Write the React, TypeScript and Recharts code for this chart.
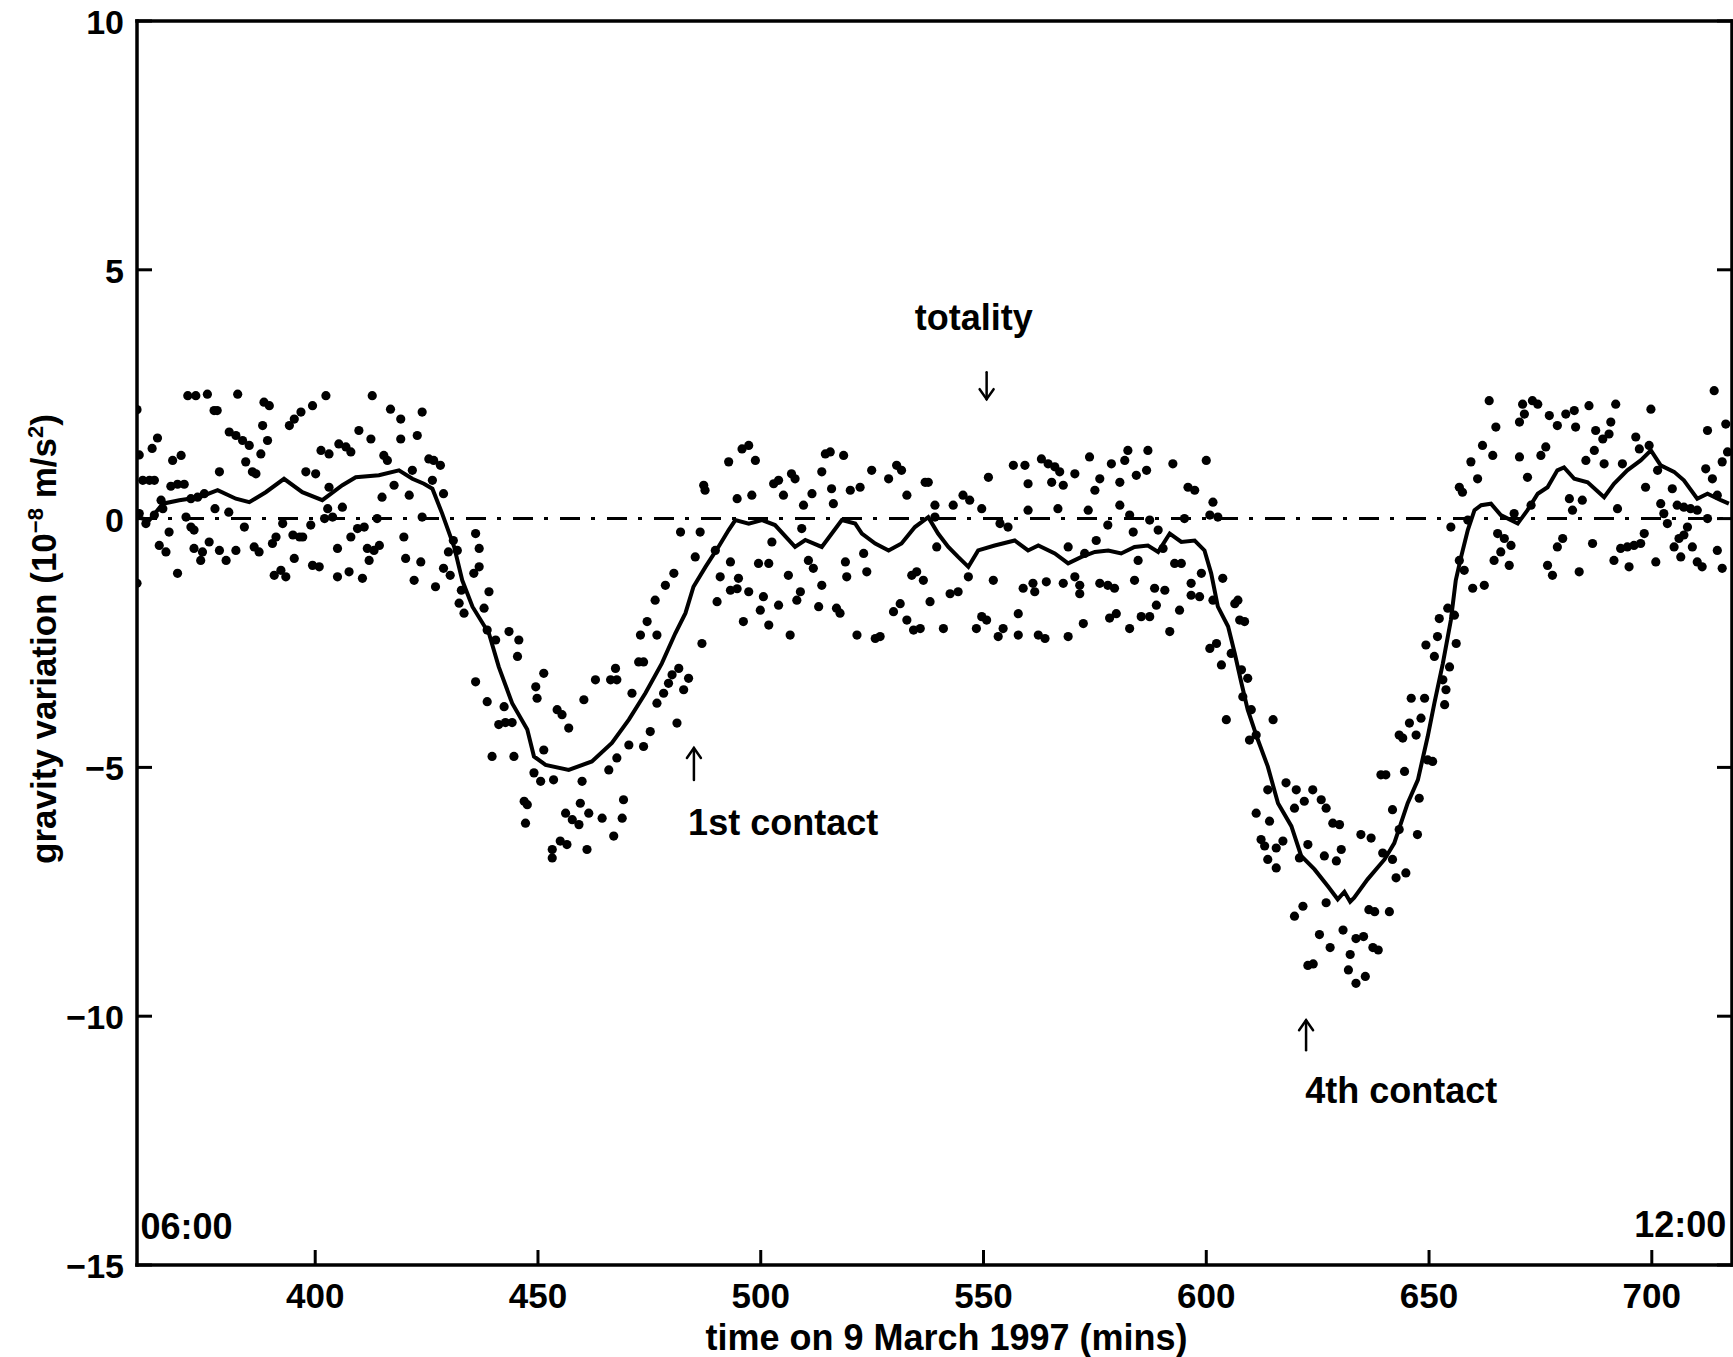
import React from 'react';
import {
  ComposedChart, Scatter, Line, XAxis, YAxis, ReferenceLine, ReferenceDot,
} from 'recharts';

const FONT = '"Liberation Sans", Arial, Helvetica, sans-serif';

const xTicks = [400, 450, 500, 550, 600, 650, 700];
const yTicks = [10, 5, 0, -5, -10, -15];

// raw gravimeter readings [minute, value]
const dotsBefore: [number, number][] = [
  [360.0, 2.19], [360.5, 1.28], [363.4, 1.41], [364.6, 1.62], [361.3, 0.77], [362.8, 0.77], [363.9, 0.77],
  [360.5, 0.1], [362.0, -0.1], [363.9, 0.07], [365.4, 0.37], [365.8, 0.2], [367.2, -0.27], [360.0, -1.3],
  [368.0, 1.17], [369.9, 1.27], [367.6, 0.65], [369.1, 0.69], [370.6, 0.69], [371.0, 0.03],
  [365.0, -0.54], [366.5, -0.67], [369.1, -1.1], [371.4, 2.47], [373.2, 2.47], [375.8, 2.5],
  [377.3, 2.17], [378.0, 2.17], [372.1, -0.17], [372.8, -0.23], [372.8, -0.6], [374.7, -0.67],
  [374.3, -0.84], [376.2, -0.47], [372.1, 0.4], [373.6, 0.43], [375.1, 0.5], [378.5, 0.94],
  [377.5, 0.2], [380.6, 0.13], [378.5, -0.64], [380.0, -0.84], [380.7, 1.74], [382.2, 1.67],
  [383.7, 1.57], [385.2, 1.47], [382.6, 2.5], [382.2, -0.64], [384.1, -0.17], [384.4, 1.14],
  [385.9, 0.94], [386.7, 0.9], [386.3, -0.57], [387.4, -0.67], [387.8, 1.3], [388.2, 1.87],
  [388.5, 2.34], [389.7, 2.27], [389.3, 1.57], [390.4, -0.5], [391.2, -0.37], [390.8, -1.14],
  [392.3, -1.04], [393.4, -1.17], [392.7, -0.1], [395.0, -0.33], [396.5, -0.37], [397.2, -0.37],
  [395.3, -0.8], [394.2, 1.87], [395.3, 2.0], [396.8, 2.14], [399.4, 2.27], [397.9, 0.94],
  [400.1, 0.9], [399.0, -0.13], [399.4, -0.94], [400.9, -0.97], [401.3, 1.37], [403.1, 1.3],
  [402.4, 2.47], [403.1, 0.63], [402.8, 0.2], [402.1, 0.0], [403.9, 0.03], [405.0, -1.17],
  [407.6, -1.07], [405.0, -0.6], [405.3, 1.5], [406.9, 1.44], [408.0, 1.34], [406.1, 0.23],
  [408.0, -0.37], [409.5, -0.2], [411.0, -0.17], [409.8, 1.77], [410.6, -1.2], [411.7, -0.6],
  [413.2, -0.64], [414.4, -0.54], [412.1, -0.84], [412.5, 1.6], [412.8, 2.47], [413.9, 0.0],
  [415.0, 0.43], [415.4, 1.27], [416.2, 1.17], [416.9, 2.2], [417.7, 0.67], [419.2, 2.0],
  [419.2, 1.6], [419.9, -0.37], [420.3, -0.8], [421.1, 0.47], [421.8, 0.97], [422.2, -1.24],
  [422.9, 1.67], [423.7, -0.87], [424.0, 2.14], [424.0, 0.03], [425.5, 1.2], [426.6, 1.17],
  [428.1, 1.07], [426.3, 0.77], [427.0, -1.37], [428.8, 0.5], [428.8, -1.0], [430.3, -1.14],
  [429.9, -0.67], [431.0, -0.44], [431.9, -0.64], [432.3, -1.7], [433.4, -1.9], [432.8, -1.44],
  [435.6, -1.1], [436.8, -0.97], [436.0, -0.3], [436.8, -0.6], [437.9, -1.8], [439.0, -1.47],
  [438.6, -2.24], [440.5, -2.44], [443.5, -2.27], [445.7, -2.44], [445.4, -2.77], [436.0, -3.28],
  [438.6, -3.68], [442.4, -3.78], [441.2, -4.14], [442.7, -4.1], [444.2, -4.1], [439.7, -4.78],
  [444.6, -4.78], [449.1, -5.11], [449.5, -3.38], [449.8, -3.61], [446.9, -5.68], [447.6, -5.75],
  [447.2, -6.12], [450.6, -5.28],
];

const dotsFirstContact: [number, number][] = [
  [451.3, -3.11], [454.3, -3.84], [455.4, -3.94], [456.9, -4.21], [460.3, -3.64], [462.9, -3.24],
  [466.3, -3.24], [467.7, -3.24], [467.4, -3.01], [471.1, -3.51], [472.6, -2.88], [473.7, -2.88],
  [473.0, -2.34], [474.5, -2.07], [476.3, -1.64], [476.7, -2.34], [478.6, -1.34], [480.5, -1.1],
  [480.1, -3.14], [481.6, -3.01], [479.3, -3.31], [478.2, -3.51], [476.7, -3.71], [482.7, -3.44],
  [483.8, -3.21], [481.2, -4.11], [475.2, -4.28], [473.7, -4.58], [470.4, -4.55], [467.7, -4.81],
  [465.9, -5.05], [451.3, -4.65], [453.5, -5.25], [459.9, -5.28], [459.5, -5.72], [456.2, -5.92],
  [457.7, -6.05], [459.2, -6.15], [461.4, -5.92], [464.4, -6.02], [469.2, -5.65], [468.9, -6.02],
  [467.0, -6.38], [455.0, -6.48], [456.5, -6.55], [453.2, -6.65], [453.2, -6.82], [461.0, -6.65],
  [482.0, -0.27], [485.3, -0.77], [486.4, -0.27], [487.2, 0.67], [487.5, 0.57], [486.8, -2.51],
  [489.8, -0.64], [490.2, -1.67], [490.9, -1.17], [492.8, 1.14], [493.2, -0.87], [493.2, -1.44],
  [494.7, -1.41], [495.0, -1.2], [494.7, 0.4], [495.8, 1.4], [497.3, 1.47], [496.1, -2.07],
  [497.3, -1.47], [498.0, 0.47], [498.8, 1.17], [499.5, -0.9], [499.9, -1.84], [500.6, -1.57],
  [501.8, -2.14], [501.8, -0.9], [502.5, -0.47], [502.9, 0.7], [504.0, 0.77], [504.0, -1.74],
  [505.1, 0.47], [506.2, -1.14], [506.6, -2.34], [506.9, 0.9], [507.7, 0.8], [508.1, -1.64],
  [508.9, -1.47], [509.2, -0.2], [509.6, 0.27], [510.7, -0.84], [511.8, -1.0], [511.5, 0.5],
  [513.0, -1.77], [513.7, -1.34], [513.7, 0.94], [514.5, 1.3], [515.6, 1.34], [515.9, 0.6],
  [516.3, 0.3], [517.0, -1.8], [517.8, -1.9], [518.6, 1.27], [519.0, -0.87], [519.3, -1.17],
  [520.1, 0.57], [521.6, -2.34], [522.3, 0.63], [523.1, -0.7], [523.8, -1.07], [524.9, 0.97],
  [525.7, -2.41], [526.8, -2.37], [528.7, 0.8], [529.8, -1.87], [531.3, -1.71], [530.5, 1.07],
  [531.6, 0.97], [532.8, 0.47], [532.8, -2.04], [533.9, -1.14], [535.0, -1.07], [534.3, -2.24],
  [535.8, -2.21], [536.5, -1.24], [536.9, 0.73], [538.0, -1.67], [539.1, 0.27], [539.5, -0.57],
];

const dotsTotality: [number, number][] = [
  [537.6, 0.73], [539.1, 0.03], [541.0, -2.21], [542.5, -1.51], [544.3, -1.47], [543.2, 0.27],
  [545.4, 0.47], [546.9, 0.37], [546.6, -1.17], [548.4, -2.21], [549.6, -1.97], [550.7, -2.04],
  [549.6, 0.2], [551.1, 0.83], [552.2, -1.24], [553.3, -2.37], [554.4, -2.21], [553.7, -0.1],
  [555.5, -0.17], [556.7, 1.07], [557.8, -1.91], [557.8, -2.34], [559.3, 1.07], [560.0, 0.7],
  [558.9, -1.4], [561.1, -1.3], [561.5, -1.47], [560.0, 0.17], [562.3, -2.34], [563.8, -2.41],
  [563.0, 1.2], [564.5, 1.1], [566.0, 1.04], [567.1, 0.94], [564.1, -1.27], [565.3, 0.73],
  [567.9, 0.67], [566.7, 0.2], [567.9, -1.3], [569.0, -2.37], [569.0, -0.57], [570.5, 0.9],
  [570.5, -1.17], [571.6, -1.34], [571.6, -1.51], [572.4, -2.11], [572.7, -0.7], [573.5, 0.17],
  [573.8, 1.24], [575.0, 0.57], [575.3, -0.44], [576.1, 0.8], [576.1, -1.3], [577.9, -1.34],
  [579.4, -1.4], [577.9, -0.13], [578.7, 1.1], [578.3, -2.0], [579.8, -1.91], [580.6, 0.73],
  [580.6, 0.27], [581.7, 1.17], [582.4, 1.37], [582.8, -2.21], [582.8, 0.07], [583.6, -0.27],
  [583.9, -1.24], [584.7, -0.84], [584.3, 0.87], [586.6, 0.97], [585.4, -1.97], [587.3, -1.97],
  [586.9, 1.37], [587.3, -0.03], [588.4, -1.4], [590.7, -1.44], [588.8, -1.74], [589.2, -0.23],
  [590.3, -0.6], [591.8, -2.27], [592.5, 1.1], [592.9, -0.9], [594.4, -0.9], [594.0, -1.84],
  [595.1, 0.0], [595.9, 0.63], [597.4, 0.57], [596.6, -1.3], [596.6, -1.54], [598.5, -1.57],
  [598.9, -1.1], [600.0, 1.17], [601.5, 0.33], [600.8, 0.07], [602.6, 0.03], [601.5, -1.64],
  [600.8, -2.61], [602.3, -2.51], [603.4, -2.94], [603.7, -1.2], [604.5, -4.04], [605.6, -2.71],
  [606.4, -1.71], [607.1, -1.64], [607.5, -2.04], [608.6, -2.07], [607.9, -3.04], [609.3, -3.21],
  [608.2, -3.58], [610.1, -3.84], [609.7, -4.45], [611.2, -4.35], [615.0, -4.04], [613.8, -5.45],
  [617.9, -5.31], [620.2, -5.45], [623.9, -5.45], [622.0, -5.68], [619.8, -5.82], [625.8, -5.65],
  [626.9, -5.82], [611.2, -5.92], [614.2, -6.08], [628.4, -6.12], [612.3, -6.45], [613.1, -6.58],
  [615.7, -6.62], [617.2, -6.48], [613.8, -6.85], [615.7, -7.02], [622.8, -6.55], [620.9, -6.82],
  [626.5, -6.78], [629.2, -6.88], [626.9, -7.72], [621.7, -7.79], [619.8, -7.99], [625.4, -8.36],
  [622.8, -8.98], [624.0, -8.95], [627.8, -8.62], [630.7, -8.27], [631.9, -9.07], [633.6, -9.34],
  [635.7, -9.2], [632.3, -8.76], [633.6, -8.44], [635.3, -8.4], [637.4, -8.62], [638.6, -8.67],
  [637.8, -7.9], [641.1, -7.9], [636.5, -7.86],
];

const dotsAfter: [number, number][] = [
  [629.9, -6.15], [630.3, -6.65], [634.7, -6.35], [637.0, -6.42], [639.2, -5.15], [640.3, -5.15],
  [641.8, -5.85], [639.6, -6.72], [641.8, -6.85], [642.6, -7.22], [644.8, -7.12], [643.3, -6.25],
  [644.5, -5.08], [643.3, -4.35], [644.1, -4.41], [645.6, -4.11], [647.1, -4.35], [647.4, -6.35],
  [646.0, -3.61], [649.0, -3.61], [647.8, -5.62], [648.2, -4.01], [649.7, -4.85], [650.8, -4.88],
  [649.3, -2.54], [651.2, -2.77], [651.9, -2.37], [652.3, -2.01], [653.1, -3.24], [653.8, -3.44],
  [653.5, -3.74], [654.6, -2.98], [656.1, -2.51], [654.2, -1.8], [655.7, -1.94], [656.8, -0.84],
  [657.9, -1.04], [659.8, -1.4], [662.4, -1.34], [654.9, -0.17], [656.8, 0.63], [657.5, 0.53],
  [658.7, -0.03], [659.4, 1.14], [660.9, 0.8], [662.0, 1.47], [663.5, 2.37], [664.3, 1.27],
  [665.0, 1.84], [665.4, -0.3], [666.9, -0.4], [668.4, -0.54], [666.1, -0.67], [664.6, -0.84],
  [668.0, -0.94], [669.1, 0.1], [670.3, 1.24], [670.3, 1.94], [671.0, 2.3], [671.4, 2.1],
  [672.1, 0.83], [672.9, 0.27], [673.2, 2.37], [674.4, 2.3], [675.1, 1.27], [676.2, 1.44],
  [676.6, -0.94], [677.7, -1.14], [677.0, 2.07], [678.8, 1.87], [678.8, -0.57], [680.0, -0.4],
  [680.7, 2.1], [682.6, 2.17], [681.5, 0.4], [682.2, 0.17], [682.9, 1.84], [683.7, -1.07],
  [684.4, 0.37], [685.2, 1.17], [685.9, 2.27], [686.7, -0.5], [687.1, 1.37], [687.4, 1.77],
  [689.0, 1.6], [689.3, 1.1], [690.4, 1.7], [690.8, 1.94], [691.5, -0.84], [691.9, 2.3],
  [692.3, 0.2], [693.0, -0.6], [694.5, -0.57], [696.0, -0.54], [697.5, -0.5], [693.4, 1.1],
  [694.9, -0.97], [696.4, 1.64], [697.2, 1.4], [698.3, -0.3], [698.6, 0.63], [699.8, 2.2],
  [699.4, 1.47], [700.9, -0.87], [701.3, 0.97], [702.0, 0.3], [702.7, 0.1], [703.5, -0.1],
  [704.6, 0.6], [705.0, -0.57], [706.1, -0.4], [705.7, 0.27], [707.2, 0.23], [708.7, 0.2],
  [706.5, -0.77], [708.0, -0.17], [707.2, -0.33], [709.1, -0.57], [710.2, -0.87], [711.3, -0.97],
  [710.2, 0.17], [712.5, 0.0], [712.1, 1.0], [713.6, 0.8], [714.0, 2.57], [712.5, 1.77],
  [714.7, -0.64], [715.8, 1.14], [715.8, -1.0], [716.6, 1.9], [717.0, 1.34], [714.7, 0.47],
];

// smoothed curve
const smoothBefore: [number, number][] = [
  [360, 0.03], [362.8, -0.03], [365.8, 0.3], [369.5, 0.37], [374, 0.43], [378.1, 0.57], [382.2, 0.4],
  [385.2, 0.33], [388.9, 0.53], [393, 0.8], [397.1, 0.53], [401.6, 0.37], [406.1, 0.67], [409.1, 0.83],
  [414.3, 0.87], [418.8, 0.97], [421.8, 0.8], [424.4, 0.7], [426.3, 0.6], [428.5, 0.1], [431.2, -0.57],
  [433, -1.24], [435.3, -1.77], [439, -2.31], [441.2, -2.98], [444.2, -3.71], [447.6, -4.24], [449.1, -4.78],
];
const smoothFirstContact: [number, number][] = [
  [451.7, -4.95], [456.9, -5.05], [462.1, -4.88], [466.6, -4.51], [470.4, -4.04], [474.1, -3.51],
  [477.8, -2.91], [480.8, -2.31], [483.1, -1.9], [484.9, -1.37], [487.6, -0.97], [490.5, -0.57],
  [492.8, -0.23], [494.3, -0.03], [497.3, -0.1], [500.3, -0.03], [503.2, -0.13], [507.7, -0.57],
  [510, -0.43], [513.7, -0.57], [518.2, -0.03], [521.2, -0.1], [522.7, -0.3], [525.7, -0.5],
  [528.7, -0.64], [531.6, -0.5], [534.6, -0.17], [537.6, 0.03],
];
const smoothTotality: [number, number][] = [
  [539.8, -0.3], [542.1, -0.57], [544.3, -0.77], [546.6, -0.97], [548.8, -0.64], [552.5, -0.54],
  [557, -0.44], [560, -0.64], [562.3, -0.54], [566, -0.7], [569, -0.9], [572, -0.77], [575, -0.67],
  [578, -0.64], [580.9, -0.7], [583.9, -0.57], [586.9, -0.54], [589.2, -0.67], [591.8, -0.3],
  [594.4, -0.47], [597.4, -0.44], [599.6, -0.64], [601.1, -1.1], [602.6, -1.77], [604.9, -2.17],
  [606.4, -2.71], [607.9, -3.31], [609.3, -3.84], [611.6, -4.45], [613.8, -4.98], [616.1, -5.72],
  [619.1, -6.18], [621.3, -6.78], [624.3, -7.05], [627.3, -7.39], [629.5, -7.65], [631.0, -7.5],
  [632.3, -7.7],
];
const smoothAfter: [number, number][] = [
  [633.2, -7.62], [636.2, -7.25], [640, -6.85], [642.2, -6.52], [645.2, -5.72], [647.5, -5.25],
  [649.7, -4.38], [651.2, -3.71], [653.1, -2.91], [654.9, -2.04], [656, -1.24], [657.2, -0.77],
  [658.7, -0.23], [660.2, 0.17], [661.7, 0.27], [663.9, 0.3], [666.1, 0.07], [669.9, -0.1],
  [672.1, 0.17], [674.4, 0.5], [676.6, 0.63], [678.8, 0.97], [680.3, 1.03], [682.6, 0.8],
  [685.6, 0.73], [689.3, 0.43], [691.5, 0.7], [694.5, 0.97], [697.5, 1.17], [699.8, 1.37],
  [702, 1.07], [705, 0.94], [707.2, 0.77], [710.2, 0.4], [712.5, 0.5], [715.5, 0.37], [717.3, 0.3],
];

const toPts = (arr: [number, number][]) => arr.map(([t, v]) => ({ t, v }));
const dots = toPts([...dotsBefore, ...dotsFirstContact, ...dotsTotality, ...dotsAfter]);
const smooth = toPts([...smoothBefore, ...smoothFirstContact, ...smoothTotality, ...smoothAfter]);

const txt = { fontFamily: FONT, fontWeight: 'bold' as const, fill: '#000' };
const minus = (v: number) => String(v).replace('-', '\u2212');

const BottomTick = ({ x, y, payload }: any) => (
  <g>
    <line x1={x} y1={y} x2={x} y2={y - 15} stroke="#000" strokeWidth={3} />
    <text x={x} y={y + 43} textAnchor="middle" fontSize={35} {...txt}>{payload.value}</text>
  </g>
);
const TopTick = ({ x, y }: any) => (
  <line x1={x} y1={y} x2={x} y2={y + 15} stroke="#000" strokeWidth={3} />
);
const LeftTick = ({ x, y, payload }: any) => (
  <g>
    <line x1={x} y1={y} x2={x + 15} y2={y} stroke="#000" strokeWidth={3} />
    <text x={x - 13} y={y + 13} textAnchor="end" fontSize={34} {...txt}>{minus(payload.value)}</text>
  </g>
);
const RightTick = ({ x, y }: any) => (
  <line x1={x} y1={y} x2={x - 15} y2={y} stroke="#000" strokeWidth={3} />
);

const YLabel = ({ viewBox }: any) => {
  const x = 56;
  const y = viewBox.y + viewBox.height / 2 - 4;
  return (
    <text x={x} y={y} transform={`rotate(-90 ${x} ${y})`} textAnchor="middle" fontSize={35} {...txt}>
      gravity variation (10<tspan dy={-13} fontSize={22}>{'\u22128'}</tspan>
      <tspan dy={13}>{' m/s'}</tspan><tspan dy={-13} fontSize={22}>2</tspan><tspan dy={13}>)</tspan>
    </text>
  );
};
const XLabel = ({ viewBox }: any) => (
  <text x={viewBox.x + viewBox.width / 2 + 12} y={viewBox.y + 85} textAnchor="middle" fontSize={36} {...txt}>
    time on 9 March 1997 (mins)
  </text>
);

const textShape = (s: string, anchor: 'start' | 'middle' | 'end') => (p: any) => (
  <text x={p.cx} y={p.cy} textAnchor={anchor} fontSize={36} {...txt}>{s}</text>
);
const arrowShape = (dir: 'up' | 'down', len: number) => (p: any) => {
  const s = dir === 'up' ? 1 : -1;
  return (
    <g stroke="#000" strokeWidth={2.5} fill="none" strokeLinecap="round">
      <line x1={p.cx} y1={p.cy} x2={p.cx} y2={p.cy + s * len} />
      <polyline points={`${p.cx - 7},${p.cy + s * 10} ${p.cx},${p.cy} ${p.cx + 7},${p.cy + s * 10}`} />
    </g>
  );
};

const renderDot = (p: any) => <circle cx={p.cx} cy={p.cy} r={4.6} fill="#000" />;
const axisStroke = { stroke: '#000', strokeWidth: 3.5, strokeLinecap: 'square' as const };

export default function App() {
  return (
    <div style={{ position: 'absolute', left: 0, top: 0, width: 1733, height: 1357, background: '#fff' }}>
      <ComposedChart width={1733} height={1357} margin={{ top: 20, right: 0, bottom: 0, left: 0 }}>
        <XAxis
          dataKey="t" type="number" domain={[360, 718]} ticks={xTicks} interval={0}
          allowDataOverflow height={92} tickSize={0} tickMargin={0} tickLine={false}
          axisLine={axisStroke} tick={<BottomTick />} label={{ content: <XLabel /> }}
        />
        <XAxis
          xAxisId="top" orientation="top" type="number" domain={[360, 718]} ticks={xTicks}
          interval={0} allowDataOverflow height={1} tickSize={0} tickMargin={0} tickLine={false}
          axisLine={axisStroke} tick={<TopTick />}
        />
        <YAxis
          dataKey="v" type="number" domain={[-15, 10]} ticks={yTicks} interval={0}
          allowDataOverflow width={137} tickSize={0} tickMargin={0} tickLine={false}
          axisLine={axisStroke} tick={<LeftTick />} label={{ content: <YLabel /> }}
        />
        <YAxis
          yAxisId="right" orientation="right" type="number" domain={[-15, 10]} ticks={yTicks}
          interval={0} allowDataOverflow width={1} tickSize={0} tickMargin={0} tickLine={false}
          axisLine={axisStroke} tick={<RightTick />}
        />
        <ReferenceLine y={0} stroke="#000" strokeWidth={3} strokeDasharray="20 11 4 12" />
        <Scatter data={dots} dataKey="v" shape={renderDot} isAnimationActive={false} />
        <Line data={smooth} dataKey="v" type="linear" stroke="#000" strokeWidth={4}
          dot={false} activeDot={false} isAnimationActive={false} />
        <ReferenceDot x={547.8} y={3.8} r={0} shape={textShape('totality', 'middle')} />
        <ReferenceDot x={550.7} y={2.4} r={0} shape={arrowShape('down', 27)} />
        <ReferenceDot x={485.0} y={-4.61} r={0} shape={arrowShape('up', 32)} />
        <ReferenceDot x={483.7} y={-6.36} r={0} shape={textShape('1st contact', 'start')} />
        <ReferenceDot x={622.4} y={-10.08} r={0} shape={arrowShape('up', 30)} />
        <ReferenceDot x={622.2} y={-11.75} r={0} shape={textShape('4th contact', 'start')} />
        <ReferenceDot x={360.8} y={-14.48} r={0} shape={textShape('06:00', 'start')} />
        <ReferenceDot x={716.7} y={-14.44} r={0} shape={textShape('12:00', 'end')} />
      </ComposedChart>
    </div>
  );
}
